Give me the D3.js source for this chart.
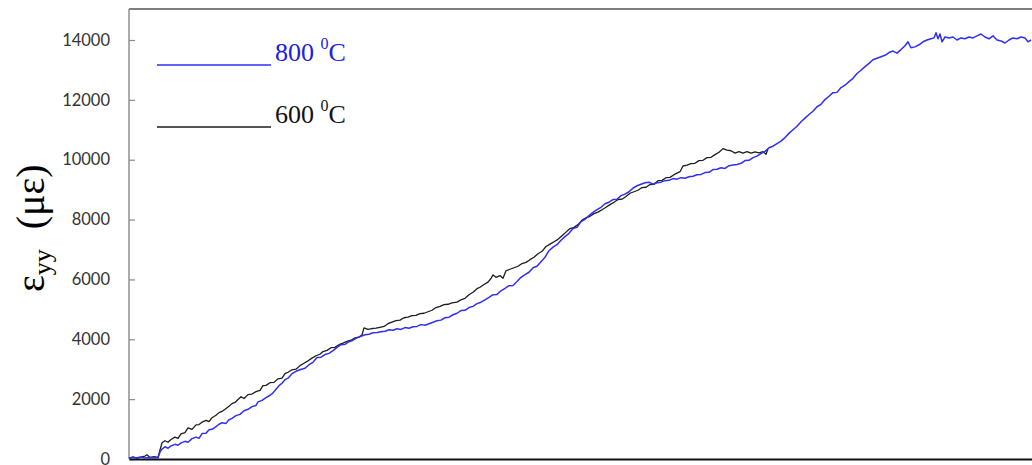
<!DOCTYPE html>
<html>
<head>
<meta charset="utf-8">
<script src="https://cdn.jsdelivr.net/npm/d3@7"></script>
<style>
  html, body { margin: 0; padding: 0; background: #fff; }
  svg { display: block; }
</style>
</head>
<body>
<svg id="chart" width="1032" height="465"></svg>
<script>
// Strain history at two temperatures (time step vs ε_yy in microstrain)
const yTicks = [0, 2000, 4000, 6000, 8000, 10000, 12000, 14000];
const seriesNames = ["800", "600"];

const time600 = [0,4,8,12,16,18,21,25,29,31,33,36,39,42,46,49,52,56,59,63,67,70,73,77,80,83,87,90,93,96,100,103,106,109,112,115,119,123,127,131,134,137,141,145,149,153,156,159,163,167,171,175,179,183,187,191,194,198,202,206,210,214,218,222,226,230,233,235,239,243,247,251,255,259,263,267,271,275,279,283,287,291,295,299,303,307,311,315,319,323,328,332,336,340,344,348,351,355,359,362,364,367,371,374,377,381,385,389,393,397,401,405,409,413,417,421,425,429,433,437,441,445,449,453,457,461,465,469,473,477,481,485,489,493,497,501,505,509,513,517,521,525,529,533,537,541,545,548,551,554,558,562,566,570,574,578,582,586,590,594,598,602,606,610,614,618,622,626,630,634,637,639];
const strain600 = [30,70,20,60,100,140,50,80,50,300,540,610,560,650,730,690,840,880,1040,990,1140,1150,1230,1290,1250,1380,1460,1550,1590,1660,1760,1850,1890,1990,2080,2020,2150,2170,2250,2290,2450,2460,2550,2560,2680,2700,2850,2900,2980,3000,3120,3200,3280,3370,3450,3500,3590,3630,3720,3730,3820,3870,3930,3970,4050,4070,4150,4380,4330,4360,4370,4400,4430,4520,4570,4620,4640,4720,4740,4790,4800,4860,4870,4920,4970,5060,5100,5160,5170,5220,5240,5320,5370,5490,5570,5690,5740,5830,5910,6030,6150,6070,6130,6040,6290,6340,6390,6440,6530,6570,6660,6740,6860,6940,7100,7180,7260,7340,7460,7580,7700,7740,7830,7980,8060,8110,8200,8250,8330,8410,8500,8580,8670,8680,8770,8880,8930,8980,9070,9080,9170,9180,9300,9310,9400,9410,9500,9550,9600,9790,9820,9870,9880,9970,9980,10070,10080,10170,10250,10370,10320,10300,10220,10270,10220,10270,10220,10260,10230,10270,10180,10360];

const time800 = [0,4,8,12,16,20,24,29,31,33,36,39,42,46,49,52,56,59,63,67,70,73,77,80,83,87,90,93,97,100,103,107,111,115,119,123,127,129,133,137,141,144,147,150,153,156,159,163,167,171,176,180,184,188,192,196,200,204,208,212,216,220,224,228,232,236,240,244,248,252,256,260,264,268,272,276,280,284,288,292,296,300,304,308,312,316,320,324,328,332,336,340,344,348,352,356,360,364,368,372,376,380,384,388,392,396,400,404,408,412,416,420,424,428,432,436,440,444,448,452,456,460,464,468,472,476,480,484,488,492,496,500,504,508,512,516,520,524,528,532,536,540,544,548,552,556,560,564,568,572,576,580,584,588,592,596,600,604,608,612,616,620,624,628,632,636,640,644,648,652,656,660,664,668,672,676,680,684,688,692,696,700,704,708,712,716,720,724,728,732,736,740,744,748,752,756,760,764,768,772,776,779,782,786,790,794,798,802,805,807,809,811,813,816,820,824,828,832,836,840,844,848,852,856,860,864,868,872,876,880,884,888,892,896,899,902];
const strain800 = [20,50,40,70,30,50,30,40,230,330,410,360,440,490,460,540,590,560,680,730,690,850,860,980,990,1080,1160,1210,1190,1310,1360,1450,1490,1610,1660,1750,1790,1910,1960,2050,2130,2210,2330,2450,2530,2650,2700,2850,2930,2980,3030,3150,3230,3390,3400,3490,3530,3620,3730,3820,3830,3920,3970,4050,4100,4150,4170,4220,4230,4250,4270,4320,4300,4350,4330,4390,4370,4420,4430,4490,4470,4520,4570,4620,4640,4720,4740,4820,4870,4960,4970,5060,5100,5190,5240,5320,5400,5490,5500,5620,5700,5790,5800,5930,6070,6160,6240,6390,6440,6590,6740,6960,7080,7160,7310,7430,7540,7700,7740,7930,8010,8130,8240,8330,8410,8530,8580,8670,8680,8800,8850,8930,9050,9130,9180,9230,9250,9180,9230,9250,9300,9310,9370,9350,9400,9380,9430,9450,9500,9510,9570,9580,9670,9680,9730,9710,9800,9820,9840,9880,9970,9980,10070,10120,10200,10280,10400,10450,10540,10620,10740,10880,11000,11120,11270,11390,11510,11620,11770,11850,12010,12120,12240,12250,12410,12490,12610,12720,12880,12990,13110,13220,13340,13390,13440,13490,13580,13630,13560,13680,13810,13940,13740,13770,13840,13940,14000,14040,14070,14240,14040,14200,13940,14100,14070,14100,14000,14070,14040,14100,14070,14140,14200,14100,14040,14140,14000,13970,13900,14000,14070,14040,14100,14070,13940,14000];

const blue = "#2f2ff5";
const dark = "#1c1c1c";

const svg = d3.select("#chart");
const mLeft = 129, mRight = 1032, mTop = 9, mBottom = 459;

const x = d3.scaleLinear().domain([0, 903]).range([mLeft, mRight]);
const y = d3.scaleLinear().domain([0, 14000]).range([mBottom, 40]);

// frame: top border
svg.append("line")
  .attr("x1", mLeft).attr("x2", mRight).attr("y1", mTop).attr("y2", mTop)
  .attr("stroke", "#555").attr("stroke-width", 1.5);

// left axis with inward ticks
const yAxis = d3.axisLeft(y).tickValues(yTicks).tickSizeInner(-6).tickSizeOuter(0).tickPadding(19)
  .tickFormat(d3.format("d"));
const gy = svg.append("g").attr("transform", `translate(${mLeft},0)`).call(yAxis);
gy.select(".domain").remove();
gy.selectAll(".tick line").attr("stroke", "#8a8a8a").attr("stroke-width", 1.2);
gy.selectAll(".tick text")
  .attr("font-family", "Lato, 'Open Sans', sans-serif")
  .attr("font-size", 16.5).attr("fill", "#333");
svg.append("line")
  .attr("x1", mLeft).attr("x2", mLeft).attr("y1", mTop).attr("y2", mBottom)
  .attr("stroke", "#8f8f8f").attr("stroke-width", 1.5);

// bottom axis line
const xAxis = d3.axisBottom(x).tickValues([]).tickSizeOuter(0);
const gx = svg.append("g").attr("transform", `translate(0,${mBottom})`).call(xAxis);
gx.select(".domain").attr("stroke", "#111").attr("stroke-width", 2);

// data lines
const line = d3.line().x(d => x(d[0])).y(d => y(d[1]));
const pts600 = time600.map((t, i) => [t, strain600[i]]);
const pts800 = time800.map((t, i) => [t, strain800[i]]);

svg.append("path").datum(pts600).attr("d", line)
  .attr("fill", "none").attr("stroke", dark).attr("stroke-width", 1.3).attr("stroke-linejoin", "round");
svg.append("path").datum(pts800).attr("d", line)
  .attr("fill", "none").attr("stroke", blue).attr("stroke-width", 1.5).attr("stroke-linejoin", "round");

// legend
const legend = [
  { name: seriesNames[0], color: blue, text: "#2020e0", ly: 65, ty: 61 },
  { name: seriesNames[1], color: dark, text: "#111", ly: 127, ty: 123 }
];
legend.forEach(l => {
  svg.append("line").attr("x1", 157).attr("x2", 271).attr("y1", l.ly).attr("y2", l.ly)
    .attr("stroke", l.color).attr("stroke-width", 1.3);
  const t = svg.append("text").attr("x", 275).attr("y", l.ty)
    .attr("font-family", "'Liberation Serif', 'Times New Roman', serif")
    .attr("font-size", 26).attr("fill", l.text);
  t.append("tspan").text(l.name + "\u00a0");
  t.append("tspan").attr("font-size", 16).attr("dy", -12).text("0");
  t.append("tspan").attr("dy", 12).text("C");
});

// y-axis title
const title = svg.append("text")
  .attr("transform", "translate(44,292) rotate(-90)")
  .attr("font-family", "'Liberation Serif', 'Times New Roman', serif")
  .attr("font-size", 40).attr("fill", "#000");
title.append("tspan").text("ε");
title.append("tspan").attr("font-size", 26).attr("dy", 7).text("yy");
title.append("tspan").attr("dy", -7).attr("dx", 20).text("(με)");
</script>
</body>
</html>
